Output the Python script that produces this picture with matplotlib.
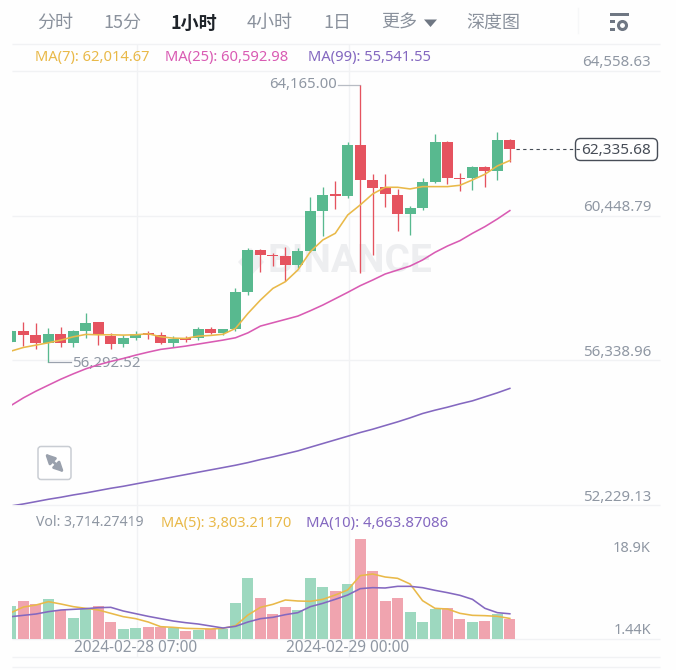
import matplotlib
matplotlib.use("Agg")
import matplotlib.pyplot as plt
from matplotlib.patches import FancyBboxPatch, Rectangle, Polygon, Circle

plt.rcParams['font.family'] = ['Noto Sans CJK SC', 'DejaVu Sans']

opens = [56867,57160,57047,56838,57085,56819,57170,57416,57028,56800,56980,57103,57056,56838,56971,56980,57227,57103,57217,58278,
         59482,59331,59293,59037,59444,60591,61056,61009,62459,61454,61255,61046,60506,60667,61407,62554,61530,61511,61843,61730,62602]
closes = [57170,57056,56838,57085,56819,57170,57407,57075,56800,56980,57075,57056,56819,56952,56914,57227,57103,57217,58278,59473,
          59321,59293,59046,59435,60582,61037,61018,62468,61464,61236,61056,60506,60667,61397,62545,61520,61483,61843,61730,62602,62335.68]
highs = [57198,57416,57388,57246,57274,57198,57672,57435,57103,57056,57160,57179,57151,57028,57028,57293,57293,57236,58402,59530,
         59501,59397,59568,59520,60990,61274,61435,62554,64165,61625,61634,61198,60734,61511,62772,62573,61672,61862,61862,62839,62621]
lows = [56848,56743,56668,56292.52,56705,56724,56961,56772,56649,56705,56914,56933,56791,56724,56867,56914,57075,57055,57179,58193,
        58838,59018,58591,58951,59425,59871,60639,60961,58828,59331,60705,60013,59899,60610,61369,61340,61160,61180,61255,61464,61985]
ma7 = [56601,56705,56771,56838,56914,57008,57075,57065,57065,57056,57065,57094,57008,56970,56961,57027,57046,57080,57245,57672,
       58051,58383,58573,58905,59426,59758,59947,60469,60753,61066,61255,61255,61208,61274,61274,61274,61312,61464,61625,61862,62014.67]
ma25 = [55056,55274,55463,55634,55804,55956,56098,56212,56307,56392,56487,56572,56650,56696,56743,56800,56857,56914,56980,57120,
        57312,57407,57501,57596,57748,57909,58089,58270,58459,58620,58791,58904,59018,59189,59407,59587,59739,59947,60137,60355,60592.98]
ma99 = [52202,52259,52325,52392,52449,52515,52572,52638,52704,52761,52828,52894,52960,53027,53093,53160,53226,53292,53359,53434,
        53520,53596,53681,53766,53871,53975,54079,54183,54288,54382,54487,54591,54705,54828,54923,55008,55103,55188,55302,55416,55541.55]
volumes = [6167,7092,6414,7400,5304,3824,5550,6167,3207,1850,1973,2282,2158,1973,1418,1603,1850,1788,6660,11224,
           7524,4564,5982,5365,11286,9621,8942,10237,18501,12642,6969,7524,4995,3145,5612,5674,3700,3207,3269,4625,3714.27]
vol_ma5 = [4872,5920,6290,6907,6475,5982,5674,5365,4749,4132,3762,3145,2282,2158,1973,1912,1850,1973,2467,4440,
           5859,6414,7215,7030,6969,7339,8140,9065,11717,12026,11471,11224,10176,7092,5674,5550,4749,4379,4317,4194,3803.21]
vol_ma10 = [4132,4379,4625,5057,5365,5489,5612,5797,5859,5180,4687,4194,3762,3330,3022,2775,2405,2035,2343,3145,
            3762,4009,4502,4872,5982,6599,7339,8140,9312,9497,9436,9744,9744,9497,9004,8572,8079,7339,5674,4872,4663.87]

tabs = ['分时', '15分', '1小时', '4小时', '1日', '更多', '深度图']
price_ticks = [64558.63, 60448.79, 56338.96, 52229.13]
volume_tick_labels = ['18.9K', '1.44K']
date_labels = ['2024-02-28 07:00', '2024-02-29 00:00']
last_price = 62335.68
high_price = 64165.00
low_price = 56292.52

GREEN = '#58B98F'; RED = '#E5535F'
GREEN_L = '#9DD8BF'; RED_L = '#F0A4AF'
YEL = '#E9B949'; PINK = '#D95BB3'; PUR = '#8468C0'
GRID = '#F1F2F4'; GREY = '#8F97A3'; TABG = '#8A919C'

W, H = 676, 670
fig = plt.figure(figsize=(W/100, H/100), dpi=100, facecolor='#FEFEFE')

def px_axes(x0, y0, x1, y1, z):
    a = fig.add_axes([x0/W, 1-y1/H, (x1-x0)/W, (y1-y0)/H], zorder=z)
    a.patch.set_alpha(0)
    return a

bg = px_axes(0, 0, W, H, 0)
bg.set_xlim(0, W); bg.set_ylim(H, 0); bg.axis('off')

for y in [44, 71, 215.7, 360, 505, 639, 657, 667]:
    bg.plot([12, 660], [y, y], color=GRID, lw=1, solid_capstyle='butt')
for xp in [137, 349]:
    bg.plot([xp, xp], [44, 657], color=GRID, lw=1, solid_capstyle='butt')
bg.plot([578, 578], [8, 33], color='#F6F7F8', lw=1)

# header tabs
tab_x = [55.5, 122, 194, 270, 337, 399, 493.5]
for t, x in zip(tabs, tab_x):
    active = t == '1小时'
    bg.text(x, 23, t, ha='center', va='center', fontsize=13,
            color='#1E2329' if active else TABG, fontweight='bold' if active else 'normal')
bg.add_patch(Polygon([(424, 19.5), (437, 19.5), (430.5, 27)], closed=True, color='#6F7783', lw=0))

# settings icon
bg.add_patch(Rectangle((610, 12.5), 19, 3, color='#6F7783', lw=0))
bg.add_patch(Rectangle((610, 20), 5, 3, color='#6F7783', lw=0))
bg.add_patch(Rectangle((610, 27.5), 5, 3, color='#6F7783', lw=0))
bg.add_patch(Circle((622.5, 25.5), 4, facecolor='none', edgecolor='#6F7783', lw=2.2))

# MA legends
FS = 10.6
bg.text(35, 57, 'MA(7): 62,014.67', color=YEL, fontsize=FS, va='center', family='Noto Sans')
bg.text(165, 57, 'MA(25): 60,592.98', color=PINK, fontsize=FS, va='center', family='Noto Sans')
bg.text(308, 57, 'MA(99): 55,541.55', color=PUR, fontsize=FS, va='center', family='Noto Sans')
bg.text(36, 523, 'Vol: 3,714.27419', color=GREY, fontsize=10.1, va='center', family='Noto Sans')
bg.text(161, 523, 'MA(5): 3,803.21170', color=YEL, fontsize=10.5, va='center', family='Noto Sans')
bg.text(306, 523, 'MA(10): 4,663.87086', color=PUR, fontsize=10.7, va='center', family='Noto Sans')

# price axis labels
for p, y in zip(price_ticks, [63, 207.5, 353, 497.5]):
    bg.text(651, y, f'{p:,.2f}', ha='right', va='center', color=GREY, fontsize=10.8, family='Noto Sans')
for s, y in zip(volume_tick_labels, [549, 631]):
    bg.text(651, y, s, ha='right', va='center', color=GREY, fontsize=10.5, family='Noto Sans')
for s, xp in zip(date_labels, [135.5, 348]):
    bg.text(xp, 648, s, ha='center', va='center', color=GREY, fontsize=11.1, family='Noto Sans')

# watermark
bg.add_patch(Polygon([(238, 262), (251, 248), (264, 262), (251, 276)], closed=True, color='#EEEFF1', lw=0))
bg.text(268, 262, 'BINANCE', fontsize=28, fontweight='bold', color='#EDEEF0', va='center', family='Roboto')

# expand button
bg.add_patch(FancyBboxPatch((38, 446.5), 33, 33, boxstyle='round,pad=0,rounding_size=3',
                            facecolor='white', edgecolor='#C9CDD3', lw=1.1))
bg.annotate('', xy=(45, 453.5), xytext=(64, 472.5),
            arrowprops=dict(arrowstyle='<|-|>', color='#9AA1AD', lw=2, mutation_scale=14, shrinkA=0, shrinkB=0))

# price tag
bg.add_patch(FancyBboxPatch((575.5, 138.5), 82, 22, boxstyle='round,pad=0,rounding_size=5',
                            facecolor='white', edgecolor='#474D57', lw=1))
bg.text(616.5, 151, f'{last_price:,.2f}', ha='center', va='center', color='#474D57', fontsize=11, family='Noto Sans')

# main price axes
ax = px_axes(12, 71, 660, 505, 1)
ax.set_xlim(0.08, 52.04); ax.set_ylim(price_ticks[-1], price_ticks[0]); ax.axis('off')
idx = list(range(len(opens)))
for i, o, c, h, l in zip(idx, opens, closes, highs, lows):
    col = GREEN if c >= o else RED
    ax.plot([i, i], [l, h], color=col, lw=0.95, solid_capstyle='butt', zorder=2)
    ax.bar(i, abs(c-o), bottom=min(o, c), width=0.88, color=col, lw=0, zorder=3)
ax.plot(idx, ma7, color=YEL, lw=1.15, zorder=4)
ax.plot(idx, ma25, color=PINK, lw=1.15, zorder=4)
ax.plot(idx, ma99, color=PUR, lw=1.15, zorder=4)
ax.plot([40.5, 45.6], [last_price, last_price], color='#474D57', lw=0.8, ls=(0, (3, 3)), zorder=2)
ax.plot([26.2, 28], [high_price, high_price], color='#B7BCC4', lw=0.9, zorder=1)
ax.text(26.1, high_price, f'{high_price:,.2f}', ha='right', va='center', color=GREY, fontsize=10.7, family='Noto Sans', zorder=1)
ax.plot([3, 4.85], [low_price, low_price], color='#9AA1AD', lw=0.9, zorder=1)
ax.text(4.9, low_price-30, f'{low_price:,.2f}', ha='left', va='center', color=GREY, fontsize=10.8, family='Noto Sans', zorder=1)

# volume axes
vx = px_axes(12, 530, 660, 639, 1)
vx.set_xlim(0.08, 52.04); vx.set_ylim(0, 20165); vx.axis('off')
for i, o, c, v in zip(idx, opens, closes, volumes):
    vx.bar(i, v, width=0.88, color=GREEN_L if c >= o else RED_L, lw=0, zorder=2)
vx.plot(idx, vol_ma5, color=YEL, lw=1.15, zorder=3)
vx.plot(idx, vol_ma10, color=PUR, lw=1.15, zorder=3)

fig.savefig('out.png', dpi=100, facecolor=fig.get_facecolor())
